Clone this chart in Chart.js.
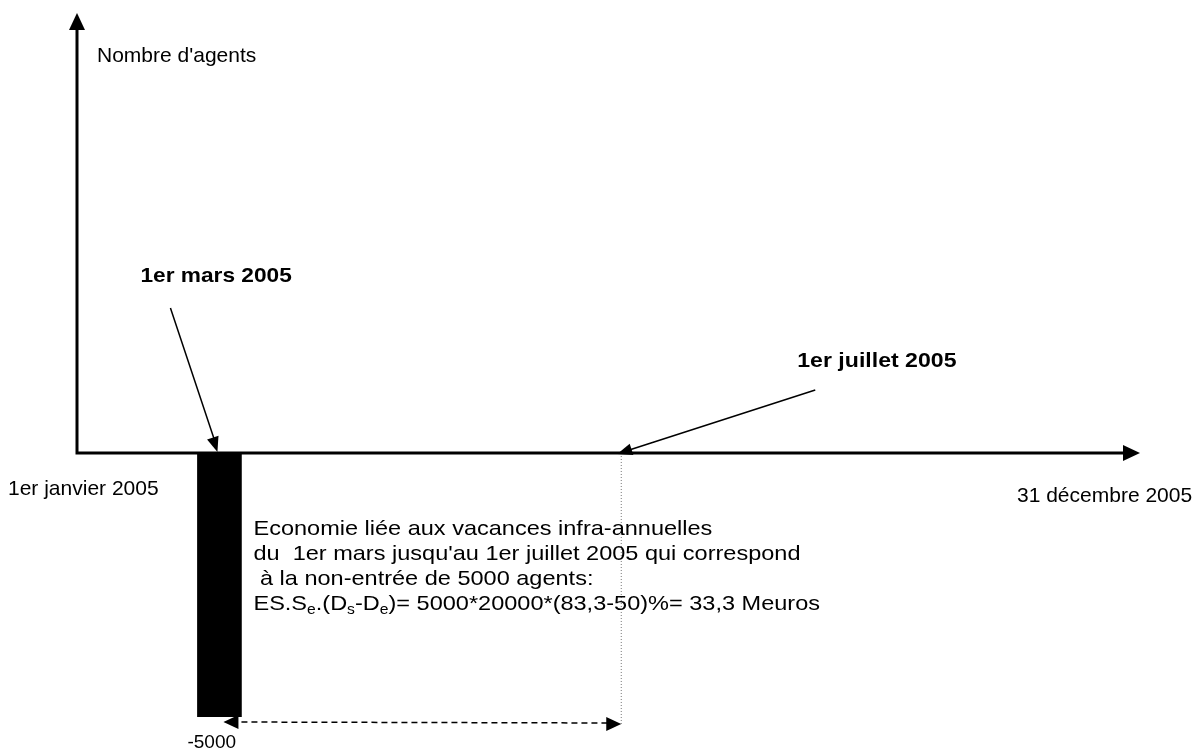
<!DOCTYPE html>
<html>
<head>
<meta charset="utf-8">
<script src="https://cdn.jsdelivr.net/npm/chart.js@4.4.1/dist/chart.umd.min.js"></script>
<style>
  body { margin: 0; background: #fff; }
  canvas { display: block; }
</style>
</head>
<body>
<canvas id="myChart" width="1197" height="752"></canvas>
<script>
// Donnees du schema (axe du temps schematique, pas a l'echelle)
var dateLabels = ['1er janvier 2005', '1er mars 2005', '1er juillet 2005', '31 décembre 2005']
var datePositions = [0, 13.4, 51.2, 100]
var barValues = [-5000]
var barTickLabels = ['-5000']
var yTitle = "Nombre d'agents"
var noteLines = [
    'Economie liée aux vacances infra-annuelles',
    "du  1er mars jusqu'au 1er juillet 2005 qui correspond",
    ' à la non-entrée de 5000 agents:'
]
// derniere ligne avec indices : [texte, indice?]
var formula = [['ES.S', false], ['e', true], ['.(D', false], ['s', true], ['-D', false], ['e', true], [')= 5000*20000*(83,3-50)%= 33,3 Meuros', false]]

var FONT = '"Liberation Sans", Arial, sans-serif'

function texte(ctx, txt, x, y, font, sx) {
    ctx.save()
    ctx.font = font
    ctx.translate(x, y)
    ctx.scale(sx || 1, 1)
    ctx.fillText(txt, 0, 0)
    ctx.restore()
}

function fleche(ctx, x1, y1, x2, y2, len, half) {
    var a = Math.atan2(y2 - y1, x2 - x1)
    ctx.beginPath()
    ctx.moveTo(x2, y2)
    ctx.lineTo(x2 - len * Math.cos(a) + half * Math.sin(a), y2 - len * Math.sin(a) - half * Math.cos(a))
    ctx.lineTo(x2 - len * Math.cos(a) - half * Math.sin(a), y2 - len * Math.sin(a) + half * Math.cos(a))
    ctx.closePath()
    ctx.fill()
}

var schema = {
    id: 'schema',
    beforeDatasetsDraw: function(chart) {
        var ctx = chart.ctx
        var xs = chart.scales.x, ys = chart.scales.y
        var xBar = xs.getPixelForValue(datePositions[1])
        var xJul = xs.getPixelForValue(datePositions[2])
        var y0 = ys.getPixelForValue(0)
        var yMin = ys.getPixelForValue(barValues[0])
        ctx.save()
        // pointilles verticaux au 1er juillet
        ctx.strokeStyle = '#777'
        ctx.lineWidth = 1
        ctx.setLineDash([1, 2])
        ctx.beginPath()
        ctx.moveTo(xJul, y0)
        ctx.lineTo(xJul, yMin + 7)
        ctx.stroke()
        // fleche en tirets
        ctx.strokeStyle = '#000'
        ctx.fillStyle = '#000'
        ctx.lineWidth = 1.5
        ctx.setLineDash([6, 4])
        ctx.beginPath()
        ctx.moveTo(xBar + 12, yMin + 5)
        ctx.lineTo(xJul - 12, yMin + 6)
        ctx.stroke()
        ctx.setLineDash([])
        fleche(ctx, xBar + 30, yMin + 5, xBar + 4, yMin + 5, 15, 7)
        fleche(ctx, xJul - 30, yMin + 7, xJul, yMin + 7, 15, 7)
        ctx.restore()
    },
    afterDraw: function(chart) {
        var ctx = chart.ctx
        var xs = chart.scales.x, ys = chart.scales.y
        var area = chart.chartArea
        var x0 = xs.getPixelForValue(datePositions[0])
        var xEnd = xs.getPixelForValue(datePositions[3])
        var xBar = xs.getPixelForValue(datePositions[1])
        var xJul = xs.getPixelForValue(datePositions[2])
        var y0 = ys.getPixelForValue(0)
        var yMin = ys.getPixelForValue(barValues[0])
        ctx.save()
        ctx.strokeStyle = '#000'
        ctx.fillStyle = '#000'
        ctx.lineCap = 'butt'
        // axes
        ctx.lineWidth = 3
        ctx.beginPath()
        ctx.moveTo(x0, y0 + 1.5)
        ctx.lineTo(x0, area.top + 12)
        ctx.moveTo(x0 - 1.5, y0)
        ctx.lineTo(xEnd - 12, y0)
        ctx.stroke()
        fleche(ctx, x0, y0, x0, area.top, 17, 8)
        fleche(ctx, x0, y0, xEnd, y0, 17, 8)

        // fleches d'annotation
        ctx.lineWidth = 1.5
        ctx.beginPath()
        ctx.moveTo(xBar - 49, y0 - 145)
        ctx.lineTo(xBar - 4, y0 - 10)
        ctx.moveTo(xJul + 194, y0 - 63)
        ctx.lineTo(xJul + 8, y0 - 3)
        ctx.stroke()
        fleche(ctx, xBar - 49, y0 - 145, xBar - 2, y0 - 1, 15, 6)
        fleche(ctx, xJul + 194, y0 - 63, xJul - 4, y0 + 1, 15, 6)

        // textes
        ctx.textAlign = 'left'
        ctx.textBaseline = 'alphabetic'
        var reg = '21px ' + FONT
        var bold = 'bold 21px ' + FONT
        texte(ctx, yTitle, x0 + 20, area.top + 49, reg)
        texte(ctx, dateLabels[0], x0 - 69, y0 + 42, reg)
        texte(ctx, dateLabels[3], xEnd - 123, y0 + 49, reg)
        texte(ctx, dateLabels[1], xBar - 79, y0 - 171, bold, 1.08)
        texte(ctx, dateLabels[2], xJul + 176, y0 - 86, bold, 1.1)
        texte(ctx, barTickLabels[0], xBar - 32, yMin + 31, '19px ' + FONT)

        var sx = 1.12
        var tx = xBar + 34
        for (var i = 0; i < noteLines.length; i++) {
            texte(ctx, noteLines[i], tx, y0 + 82 + i * 25, reg, sx)
        }
        var ty = y0 + 82 + 3 * 25
        var cx = tx
        for (var j = 0; j < formula.length; j++) {
            var f = formula[j][1] ? '14px ' + FONT : reg
            ctx.font = f
            texte(ctx, formula[j][0], cx, formula[j][1] ? ty + 4 : ty, f, sx)
            cx += ctx.measureText(formula[j][0]).width * sx
        }
        ctx.restore()
    }
}

var ctx = document.getElementById('myChart')
var myChart = new Chart(ctx, {
    type: 'bar',
    data: {
        datasets: [{
            label: 'Non-entrée',
            data: [{ x: datePositions[1], y: barValues[0] }],
            backgroundColor: '#000',
            borderWidth: 0,
            barThickness: 44
        }]
    },
    options: {
        responsive: false,
        animation: false,
        devicePixelRatio: 1,
        layout: { padding: { left: 77, right: 57, top: 13, bottom: 35 } },
        plugins: { legend: { display: false }, tooltip: { enabled: false } },
        scales: {
            x: { type: 'linear', min: 0, max: 100, offset: false, display: false },
            y: { min: -5000, max: 8333, display: false }
        }
    },
    plugins: [schema]
})
</script>
</body>
</html>
